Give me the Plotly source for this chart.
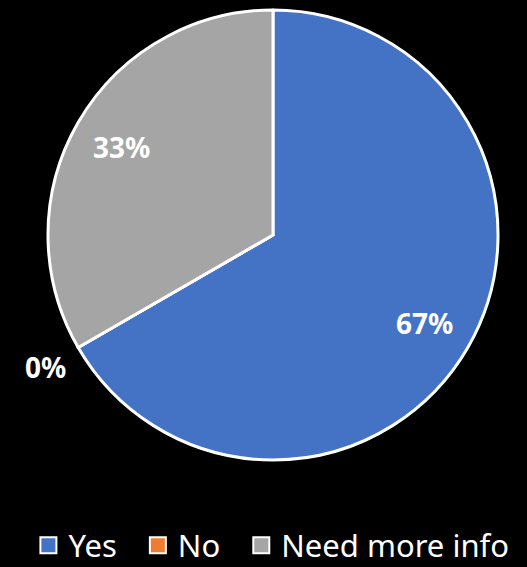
import math
import plotly.graph_objects as go

labels = ["Yes", "No", "Need more info"]
values = [2, 0, 1]
colors = ["#4472C4", "#ED7D31", "#A5A5A5"]

W, H = 527, 567
cx, cy, R = 273, 235, 225  # pie centre and radius in pixels

fig = go.Figure(go.Pie(
    labels=labels,
    values=values,
    sort=False,
    direction="clockwise",
    rotation=0,
    marker=dict(colors=colors, line=dict(color="white", width=3)),
    textinfo="none",
    hoverinfo="label+percent",
    showlegend=False,
    domain=dict(x=[(cx - R) / W, (cx + R) / W],
                y=[(H - cy - R) / H, (H - cy + R) / H]),
))

# legend entries with larger square swatches; trailing spaces widen the gaps
for i, (lab, col) in enumerate(zip(labels, colors)):
    pad = "\u00a0" * (2 if i < len(labels) - 1 else 0)
    fig.add_trace(go.Scatter(
        x=[None], y=[None], mode="markers", name=lab + pad,
        marker=dict(symbol="square", size=16, color=col,
                    line=dict(color="white", width=2)),
        hoverinfo="skip",
    ))

# percentage labels placed at each slice's mid-angle
total = sum(values)
cum = 0
for lab, v in zip(labels, values):
    frac = v / total
    mid = (cum + frac / 2) * 2 * math.pi
    cum += frac
    pct = round(frac * 100)
    rr = R * (0.78 if frac > 0 else 1.17)
    px = cx + rr * math.sin(mid)
    py = cy - rr * math.cos(mid)
    fig.add_annotation(
        x=px / W, y=1 - py / H, xref="paper", yref="paper",
        text=f"<b>{pct}%</b>", showarrow=False,
        font=dict(family="Noto Sans", size=28, color="white"),
        xanchor="center", yanchor="middle",
    )

fig.update_layout(
    width=W, height=H,
    paper_bgcolor="black", plot_bgcolor="black",
    margin=dict(l=0, r=0, t=0, b=0, autoexpand=False),
    showlegend=True,
    xaxis=dict(visible=False), yaxis=dict(visible=False),
    legend=dict(
        orientation="h", x=0.515, xanchor="center", y=-0.01, yanchor="bottom",
        font=dict(family="Noto Sans", size=31, color="white"),
        itemsizing="trace", traceorder="normal",
    ),
)

fig.write_html("out.html")
